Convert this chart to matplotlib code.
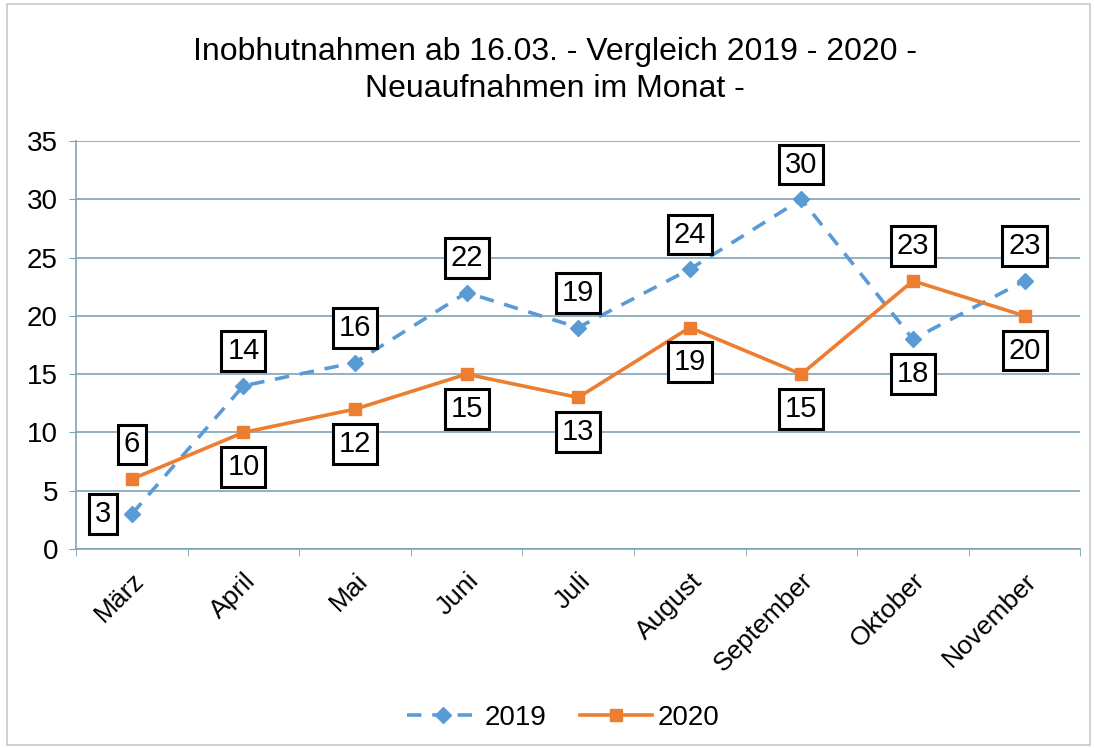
import numpy as np
import matplotlib
matplotlib.use('Agg')
import matplotlib.pyplot as plt
from matplotlib.patches import Rectangle

monate = ['März', 'April', 'Mai', 'Juni', 'Juli', 'August', 'September', 'Oktober', 'November']
werte_2019 = [3, 14, 16, 22, 19, 24, 30, 18, 23]
werte_2020 = [6, 10, 12, 15, 13, 19, 15, 23, 20]
# Lage der Datenbeschriftung: o = oben, u = unten, l = links
lage_2019 = ['l', 'o', 'o', 'o', 'o', 'o', 'o', 'u', 'o']
lage_2020 = ['o', 'u', 'u', 'u', 'u', 'u', 'u', 'o', 'u']

BLAU = '#5b9bd5'
ORANGE = '#ed7d31'
GRID = '#7fa3b5'

plt.rcParams['font.family'] = ['Liberation Sans', 'DejaVu Sans']

fig = plt.figure(figsize=(10.94, 7.48), dpi=100)
ax = fig.add_axes([0.0695, 0.266, 0.918, 0.5455])

x = np.arange(len(monate))
ax.plot(x, werte_2019, color=BLAU, lw=2.6, ls=(0, (4, 3)), marker='D', ms=8, label='2019')
ax.plot(x, werte_2020, color=ORANGE, lw=2.6, marker='s', ms=8.5, label='2020')

versatz = {'o': (0, 25), 'u': (0, -25), 'l': (-21, 0)}
for werte, lage in ((werte_2019, lage_2019), (werte_2020, lage_2020)):
    for xi, v, l in zip(x, werte, lage):
        ax.annotate(str(v), (xi, v), xytext=versatz[l], textcoords='offset points',
                    ha='center', va='center', fontsize=21,
                    bbox=dict(boxstyle='square,pad=0.2', fc='white', ec='black', lw=2.2))

ax.set_xlim(-0.5, len(monate) - 0.5)
ax.set_ylim(0, 35)
ax.set_yticks(range(0, 36, 5))
ax.yaxis.grid(True, color=GRID, lw=1.2)
ax.set_axisbelow(True)
ax.set_xticks(x)
ax.set_xticklabels(monate, rotation=45, ha='right', rotation_mode='anchor', fontsize=19)
ax.set_xticks(np.arange(-0.5, len(monate)), minor=True)
ax.tick_params(axis='x', which='major', length=0, pad=14)
ax.tick_params(axis='x', which='minor', length=5, color=GRID)
ax.tick_params(axis='y', length=5, color=GRID, labelsize=20, pad=8)
for s in ['top', 'right']:
    ax.spines[s].set_visible(False)
for s in ['left', 'bottom']:
    ax.spines[s].set_color(GRID)
    ax.spines[s].set_linewidth(1.2)

fig.text(0.507, 0.906, 'Inobhutnahmen ab 16.03. - Vergleich 2019 - 2020 -\nNeuaufnahmen im Monat -',
         ha='center', va='center', fontsize=23, linespacing=1.3)

fig.legend(loc='center', bbox_to_anchor=(0.515, 0.04), ncol=2, frameon=False, fontsize=20,
           handlelength=2.6, columnspacing=1.2, handletextpad=0.2)

fig.patches.append(Rectangle((0.006, 0.004), 0.99, 0.99, transform=fig.transFigure,
                             fill=False, ec='#c8c8c8', lw=1.2))

plt.savefig('out.png', dpi=100)
